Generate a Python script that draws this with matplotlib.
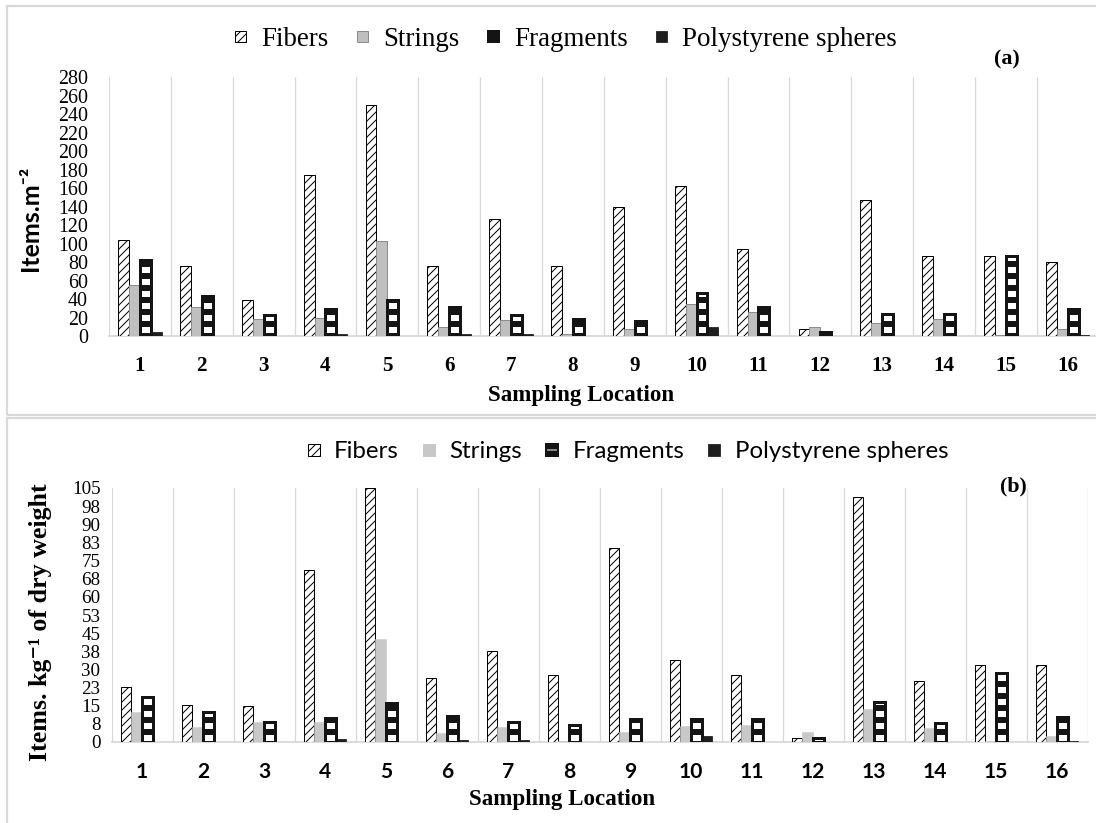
import matplotlib
matplotlib.use("Agg")
import matplotlib.pyplot as plt
from matplotlib.patches import Patch, Rectangle
from matplotlib.legend_handler import HandlerTuple
import numpy as np

# ---------------- data ----------------
locations = [str(i) for i in range(1, 17)]
series_names = ["Fibers", "Strings", "Fragments", "Polystyrene spheres"]

# (a) items per square metre
fibers_area = [104, 76, 39, 174, 250, 76, 127, 76, 140, 162, 94, 8, 147, 86, 86, 80]
strings_area = [55, 31, 18, 20, 103, 10, 17, 2, 8, 35, 26, 10, 14, 18, 1, 8]
fragments_area = [82, 43, 23, 29, 39, 31, 23, 18, 16, 47, 31, 4, 24, 24, 86, 29]
spheres_area = [4, 0, 0, 2, 0, 2, 2, 0, 0, 10, 0, 0, 0, 0, 0, 1]
yticks_area = list(range(0, 281, 20))

# (b) items per kg of dry weight
fibers_weight = [22.8, 15.5, 14.8, 71.2, 105, 26.5, 37.6, 27.6, 80.4, 34, 27.6, 1.7, 101.4, 25.3, 31.7, 31.7]
strings_weight = [12.4, 6.2, 8.4, 8.4, 42.4, 3.7, 6.2, 0.5, 4, 6.5, 7.2, 4, 13.5, 5.7, 0.5, 2.6]
fragments_weight = [18.6, 12.4, 8.4, 10.1, 16.3, 10.8, 8.4, 7.2, 9.7, 9.7, 9.7, 1.7, 16.6, 8, 28.5, 10.4]
spheres_weight = [0, 0, 0, 1.2, 0, 1, 1, 0, 0, 2.6, 0, 0, 0, 0, 0, 0.5]
yticks_weight = [0, 7.5, 15, 22.5, 30, 37.5, 45, 52.5, 60, 67.5, 75, 82.5, 90, 97.5, 105]
ytick_labels_weight = ["0", "8", "15", "23", "30", "38", "45", "53", "60", "68",
                       "75", "83", "90", "98", "105"]

# ---------------- layout helpers ----------------
DPI = 72
W, H = 1096, 823
SERIF = ["Liberation Serif", "DejaVu Serif"]
SANS = ["Lato", "DejaVu Sans"]
GRID = "#d9d9d9"
DARK = "#141414"

fig = plt.figure(figsize=(W / DPI, H / DPI), dpi=DPI)


def axes_box(left, top, right, bottom):
    return [left / W, 1 - bottom / H, (right - left) / W, (bottom - top) / H]


def hatch_width(patch, lw):
    if hasattr(patch, "set_hatch_linewidth"):
        patch.set_hatch_linewidth(lw)


def draw_panel(ax, fibers, strings, fragments, spheres, strings_style):
    x = np.arange(1, len(locations) + 1)
    w = 0.176

    with plt.rc_context({"hatch.linewidth": 1.0}):
        fb = ax.bar(x - 1.5 * w, fibers, w, facecolor="white", edgecolor="black",
                    hatch="///", linewidth=1.0, zorder=3)
    for p in fb:
        hatch_width(p, 1.0)

    sb = ax.bar(x - 0.5 * w, strings, w, zorder=3, **strings_style)

    with plt.rc_context({"hatch.linewidth": 6.0}):
        gb = ax.bar(x + 0.5 * w, fragments, w, facecolor=DARK, edgecolor="white",
                    hatch="-", linewidth=0, zorder=3)
    for p in gb:
        hatch_width(p, 6.0)
    gb_edge = ax.bar(x + 0.5 * w, fragments, w, fill=False, edgecolor=DARK,
                     linewidth=3.0, zorder=4)

    pb = ax.bar(x + 1.5 * w, spheres, w, facecolor="#1e1e1e", edgecolor="#1e1e1e",
                linewidth=0.8, zorder=3)

    # empty categories leave no mark on the baseline
    for container in (fb, sb, gb, gb_edge, pb):
        for p in container:
            if p.get_height() == 0:
                p.set_visible(False)

    ax.set_xlim(0.5, len(locations) + 0.5)
    ax.set_xticks(x)
    ax.set_xticks(np.arange(0.5, len(locations) + 1, 1), minor=True)
    ax.grid(which="minor", axis="x", color=GRID, linewidth=1.3)
    ax.set_axisbelow(True)
    ax.tick_params(which="both", length=0)
    for side in ("left", "right", "top"):
        ax.spines[side].set_visible(False)
    ax.spines["bottom"].set_color(GRID)
    ax.spines["bottom"].set_linewidth(1.8)
    ax.set_facecolor("none")


# ---------------- panel (a) ----------------
ax_a = fig.add_axes(axes_box(109, 77, 1098.6, 336))
draw_panel(ax_a, fibers_area, strings_area, fragments_area, spheres_area,
           dict(facecolor="#bfbfbf", edgecolor="#8c8c8c", linewidth=1.0))
ax_a.set_ylim(0, 280)
ax_a.set_yticks(yticks_area)
ax_a.set_yticklabels([str(v) for v in yticks_area], family=SERIF, fontsize=20)
ax_a.set_xticklabels(locations, family=SERIF, fontsize=21, fontweight="bold")
ax_a.tick_params(axis="y", pad=21)
ax_a.tick_params(axis="x", pad=20)

# ---------------- panel (b) ----------------
ax_b = fig.add_axes(axes_box(111.5, 488, 1087.5, 742))
draw_panel(ax_b, fibers_weight, strings_weight, fragments_weight, spheres_weight,
           dict(facecolor="#c8c8c8", edgecolor="#c8c8c8", linewidth=0.5))
ax_b.set_ylim(0, 105)
ax_b.set_yticks(yticks_weight)
ax_b.set_yticklabels(ytick_labels_weight, family=SERIF, fontsize=19)
ax_b.set_xticklabels(locations, family=SANS, fontsize=21, fontweight="bold")
ax_b.tick_params(axis="y", pad=11)
ax_b.tick_params(axis="x", pad=20)

# ---------------- frames around the panels ----------------
for (l, t, r, b) in [(7, 6, 1100, 415), (7, 418, 1100, 830)]:
    fig.add_artist(Rectangle((l / W, 1 - b / H), (r - l) / W, (b - t) / H,
                             transform=fig.transFigure, fill=False,
                             edgecolor=GRID, linewidth=2.2, zorder=0))

# ---------------- axis titles ----------------
fig.text(30 / W, 1 - 218 / H, "Items.m\u207b\u00b2", rotation=90, ha="center", va="center",
         family=SANS, fontsize=25, fontweight="bold")
fig.text(41 / W, 1 - 622 / H, "Items. kg\u207b\u00b9 of dry weight", rotation=90,
         ha="center", va="center", family=SERIF, fontsize=26, fontweight="bold")
fig.text(581 / W, 1 - 396 / H, "Sampling Location", ha="center", va="center",
         family=SERIF, fontsize=23, fontweight="bold")
fig.text(562 / W, 1 - 800 / H, "Sampling Location", ha="center", va="center",
         family=SERIF, fontsize=23, fontweight="bold")
fig.text(1007 / W, 1 - 59 / H, "(a)", ha="center", va="center",
         family=SERIF, fontsize=22, fontweight="bold")
fig.text(1013 / W, 1 - 486 / H, "(b)", ha="center", va="center",
         family=SERIF, fontsize=22, fontweight="bold")


# ---------------- legends ----------------
def legend_handles(strings_face, strings_edge):
    fib = Patch(facecolor="white", edgecolor="black", hatch="///", linewidth=1.0)
    hatch_width(fib, 1.0)
    stri = Patch(facecolor=strings_face, edgecolor=strings_edge, linewidth=1.0)
    frag_fill = Patch(facecolor=DARK, edgecolor="white", hatch="-", linewidth=0)
    hatch_width(frag_fill, 4.0)
    frag_edge = Patch(fill=False, edgecolor=DARK, linewidth=2.0)
    sph = Patch(facecolor="#1e1e1e", edgecolor="#1e1e1e", linewidth=0.8)
    return [fib, stri, (frag_fill, frag_edge), sph]


leg_a = fig.legend(legend_handles("#bfbfbf", "#8c8c8c"), series_names,
                   loc="center", bbox_to_anchor=(566 / W, 1 - 40 / H), ncol=4,
                   frameon=False, prop={"family": SERIF, "size": 27},
                   handlelength=0.42, handleheight=0.25, handletextpad=0.55,
                   columnspacing=1.05, handler_map={tuple: HandlerTuple(ndivide=1)})
leg_b = fig.legend(legend_handles("#c8c8c8", "#c8c8c8"), series_names,
                   loc="center", bbox_to_anchor=(628 / W, 1 - 452 / H), ncol=4,
                   frameon=False, prop={"family": SANS, "size": 24},
                   handlelength=0.5, handleheight=0.4, handletextpad=0.6,
                   columnspacing=1.0, handler_map={tuple: HandlerTuple(ndivide=1)})

fig.savefig("out.png", dpi=DPI)
